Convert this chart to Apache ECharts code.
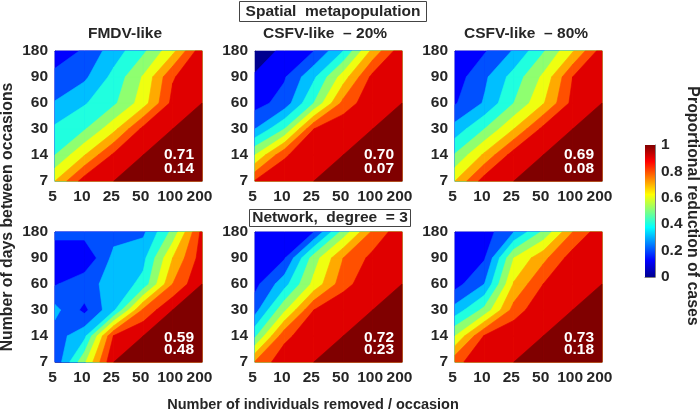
<!DOCTYPE html>
<html>
<head>
<meta charset="utf-8">
<style>html,body{margin:0;padding:0;background:#fff}#main{width:700px;height:412px}</style>
<script src="https://cdn.jsdelivr.net/npm/echarts@6/dist/echarts.min.js"></script>
</head>
<body>
<div id="main"></div>
<script>
var xLabels = ['5', '10', '25', '50', '100', '200'];
var yLabels = ['7', '14', '30', '60', '90', '180'];
var levels = [0, 0.1, 0.2, 0.3, 0.4, 0.5, 0.6, 0.7, 0.8, 0.9, 1];
var bandColors = ['#00008f', '#0000ff', '#0050ff', '#00bfff', '#20ffdf', '#8fff70', '#efff10', '#ffaa00', '#ff5000', '#e00000', '#800000'];
var jetStops = ['#00008f', '#0000ff', '#0080ff', '#00ffff', '#80ff80', '#ffff00', '#ff8000', '#ff0000', '#800000'];

// rows run from 180 days (top) down to 7 days
var fmdvSpatial = [
    [.11, .22, .35, .48, .67, .97],
    [.245, .28, .43, .61, .89, .99],
    [.305, .39, .48, .65, .93, 1],
    [.42, .49, .67, .93, 1, 1],
    [.50, .695, .92, 1, 1, 1],
    [.70, .95, 1, 1, 1, 1]
];
var csfv20Spatial = [
    [.03, .13, .20, .40, .73, .97],
    [.115, .19, .38, .65, .93, .995],
    [.16, .24, .50, .83, .98, 1],
    [.30, .50, .90, .99, 1, 1],
    [.60, .885, .985, 1, 1, 1],
    [.91, .98, 1, 1, 1, 1]
];
var csfv80Spatial = [
    [.11, .19, .31, .49, .69, .95],
    [.15, .28, .44, .62, .90, .985],
    [.19, .31, .50, .69, .93, 1],
    [.34, .50, .70, .93, 1, 1],
    [.51, .72, .95, 1, 1, 1],
    [.70, .95, 1, 1, 1, 1]
];
var fmdvNetwork = [
    [.24, .24, .26, .28, .53, .93],
    [.11, .11, .33, .37, .70, .95],
    [.19, .27, .33, .43, .80, 1],
    [.33, .173, .38, .82, 1, 1],
    [.25, .37, .91, 1, 1, 1],
    [.22, .58, 1, 1, 1, 1]
];
var csfv20Network = [
    [.12, .15, .20, .54, .82, .97],
    [.13, .19, .55, .80, .93, .99],
    [.17, .36, .63, .86, .98, 1],
    [.26, .58, .90, .99, 1, 1],
    [.48, .87, .98, 1, 1, 1],
    [.81, .97, 1, 1, 1, 1]
];
var csfv80Network = [
    [.11, .15, .30, .52, .80, .97],
    [.13, .19, .60, .77, .95, .99],
    [.16, .30, .71, .90, .98, 1],
    [.34, .53, .84, .99, 1, 1],
    [.60, .91, .99, 1, 1, 1],
    [.87, .97, 1, 1, 1, 1]
];
var panelValues = [fmdvSpatial, csfv20Spatial, csfv80Spatial, fmdvNetwork, csfv20Network, csfv80Network];
var panelNotes = [['0.71', '0.14'], ['0.70', '0.07'], ['0.69', '0.08'], ['0.59', '0.48'], ['0.72', '0.23'], ['0.73', '0.18']];
var panelTitles = ['FMDV-like', 'CSFV-like  – 20%', 'CSFV-like  – 80%'];

var lefts = [55, 255, 455];
var tops = [51, 232];
var W = 147, H = 130;
var textColor = '#262626';
var lineColor = '#808080';
var font = 'bold 15.5px "Liberation Sans"';

var myChart = echarts.init(document.getElementById('main'));

function crossing(a, b, level) {
    var t = (level - a[2]) / (b[2] - a[2]);
    return [a[0] + t * (b[0] - a[0]), a[1] + t * (b[1] - a[1])];
}

// parts of one grid cell where the value is >= level, walking round its corners
function clipCell(corners, level) {
    var inside = corners.map(function (q) { return q[2] >= level; });
    var mean = (corners[0][2] + corners[1][2] + corners[2][2] + corners[3][2]) / 4;
    // saddle: two opposite corners on their own, cell mean below the level
    if (inside[0] === inside[2] && inside[1] === inside[3] && inside[0] !== inside[1] && mean < level) {
        var parts = [];
        for (var s = 0; s < 4; s++) {
            if (inside[s]) {
                parts.push([
                    [corners[s][0], corners[s][1]],
                    crossing(corners[s], corners[(s + 1) % 4], level),
                    crossing(corners[s], corners[(s + 3) % 4], level)
                ]);
            }
        }
        return parts;
    }
    var pts = [];
    for (var i = 0; i < 4; i++) {
        var a = corners[i], b = corners[(i + 1) % 4];
        if (a[2] >= level) pts.push([a[0], a[1]]);
        if ((a[2] >= level) !== (b[2] >= level)) pts.push(crossing(a, b, level));
    }
    return pts.length < 3 ? [] : [pts];
}

function contourSeries(p) {
    var values = panelValues[p];
    // painted level by level, so a band never sits on top of a higher one
    var cells = [];
    levels.forEach(function (level, k) {
        for (var c = 0; c < 5; c++) {
            for (var r = 0; r < 5; r++) {
                cells.push([c, r, k]);
            }
        }
    });
    return {
        type: 'custom',
        coordinateSystem: 'cartesian2d',
        xAxisIndex: p * 2,
        yAxisIndex: p * 2,
        silent: true,
        animation: false,
        data: cells,
        renderItem: function (params, api) {
            var c = api.value(0), r = api.value(1), k = api.value(2);
            var v = function (col, row) {
                return [col, row, values[5 - row][col]];
            };
            var parts = clipCell([v(c, r), v(c + 1, r), v(c + 1, r + 1), v(c, r + 1)], levels[k]);
            return {
                type: 'group',
                children: parts.map(function (pts) {
                    return {
                        type: 'polygon',
                        shape: { points: pts.map(function (q) { return api.coord(q); }) },
                        style: { fill: bandColors[k], stroke: bandColors[k], lineWidth: 0.6 }
                    };
                })
            };
        }
    };
}

var grids = [], xAxes = [], yAxes = [], series = [], graphics = [];

function label(text, x, y, color, size) {
    return {
        type: 'text', x: x, y: y, silent: true, z: 20,
        style: {
            text: text, font: size ? 'bold ' + size + 'px "Liberation Sans"' : font,
            fill: color || textColor, textAlign: 'center', textVerticalAlign: 'middle'
        }
    };
}

for (var p = 0; p < 6; p++) {
    var col = p % 3, row = Math.floor(p / 3);
    grids.push({ left: lefts[col], top: tops[row], width: W, height: H });
    [false, true].forEach(function (second) {
        xAxes.push({
            type: 'value', gridIndex: p, min: 0, max: 5, interval: 1,
            position: second ? 'top' : 'bottom',
            splitLine: { show: false },
            axisLine: { onZero: false, lineStyle: { color: lineColor, width: 1 } },
            axisTick: { inside: true, length: 2, lineStyle: { color: lineColor } },
            axisLabel: {
                show: !second, margin: 8, hideOverlap: false, showMinLabel: true, showMaxLabel: true,
                color: textColor, fontFamily: 'Liberation Sans', fontWeight: 'bold', fontSize: 15.5,
                padding: [0, 5, 0, 0],
                formatter: function (val) { return xLabels[val]; }
            }
        });
        yAxes.push({
            type: 'value', gridIndex: p, min: 0, max: 5, interval: 1,
            position: second ? 'right' : 'left',
            splitLine: { show: false },
            axisLine: { onZero: false, lineStyle: { color: lineColor, width: 1 } },
            axisTick: { inside: true, length: 2, lineStyle: { color: lineColor } },
            axisLabel: {
                show: !second, margin: 7, hideOverlap: false, showMinLabel: true, showMaxLabel: true,
                color: textColor, fontFamily: 'Liberation Sans', fontWeight: 'bold', fontSize: 15.5,
                formatter: function (val) { return yLabels[val]; }
            }
        });
    });
    series.push(contourSeries(p));
    var noteY = row === 0 ? [104, 118] : [105.5, 118];
    graphics.push(label(panelNotes[p][0], lefts[col] + 124, tops[row] + noteY[0], '#fff'));
    graphics.push(label(panelNotes[p][1], lefts[col] + 124, tops[row] + noteY[1], '#fff'));
}

// colour bar gets its own little grid
grids.push({ left: 645, top: 145, width: 10, height: 132 });
xAxes.push({
    type: 'value', gridIndex: 6, min: 0, max: 1, position: 'bottom',
    splitLine: { show: false }, axisTick: { show: false }, axisLabel: { show: false },
    axisLine: { onZero: false, lineStyle: { color: lineColor } }
});
yAxes.push({
    type: 'value', gridIndex: 6, min: 0, max: 1, interval: 0.2, position: 'right',
    splitLine: { show: false }, axisTick: { show: false },
    axisLine: { onZero: false, lineStyle: { color: lineColor } },
    axisLabel: {
        margin: 6, color: textColor, fontFamily: 'Liberation Sans', fontWeight: 'bold', fontSize: 15.5,
        showMinLabel: true, showMaxLabel: true
    }
});
series.push({
    type: 'custom',
    coordinateSystem: 'cartesian2d',
    xAxisIndex: 12,
    yAxisIndex: 12,
    silent: true,
    animation: false,
    data: [[0, 0, 1, 1]],
    renderItem: function (params, api) {
        var a = api.coord([api.value(0), api.value(1)]);
        var b = api.coord([api.value(2), api.value(3)]);
        return {
            type: 'rect',
            shape: { x: a[0], y: b[1], width: b[0] - a[0], height: a[1] - b[1] },
            style: {
                fill: new echarts.graphic.LinearGradient(0, 1, 0, 0, jetStops.map(function (color, i) {
                    return { offset: i / (jetStops.length - 1), color: color };
                }))
            }
        };
    }
});

// header boxes
graphics.push({ type: 'rect', z: 19, silent: true, shape: { x: 239.5, y: 1.5, width: 187, height: 20 }, style: { fill: '#fff', stroke: '#444', lineWidth: 1 } });
graphics.push(label('Spatial  metapopulation', 333, 12));
graphics.push({ type: 'rect', z: 19, silent: true, shape: { x: 249.5, y: 209.5, width: 161, height: 17 }, style: { fill: '#fff', stroke: '#444', lineWidth: 1 } });
graphics.push(label('Network,  degree  = 3', 330, 218));
graphics.push(label(panelTitles[0], 125, 34));
graphics.push(label(panelTitles[1], 325, 34));
graphics.push(label(panelTitles[2], 526, 34));

// axis names shared across the panels
graphics.push(label('Number of individuals removed / occasion', 313, 405, textColor, 14.5));
var yName = label('Number of days between occasions', 8, 217, textColor, 15.8);
yName.rotation = Math.PI / 2;
graphics.push(yName);
var cName = label('Proportional reduction of cases', 692, 206, textColor, 15.9);
cName.rotation = -Math.PI / 2;
graphics.push(cName);

var option = {
    animation: false,
    backgroundColor: '#fff',
    grid: grids,
    xAxis: xAxes,
    yAxis: yAxes,
    series: series,
    graphic: graphics
};
myChart.setOption(option);
</script>
</body>
</html>
